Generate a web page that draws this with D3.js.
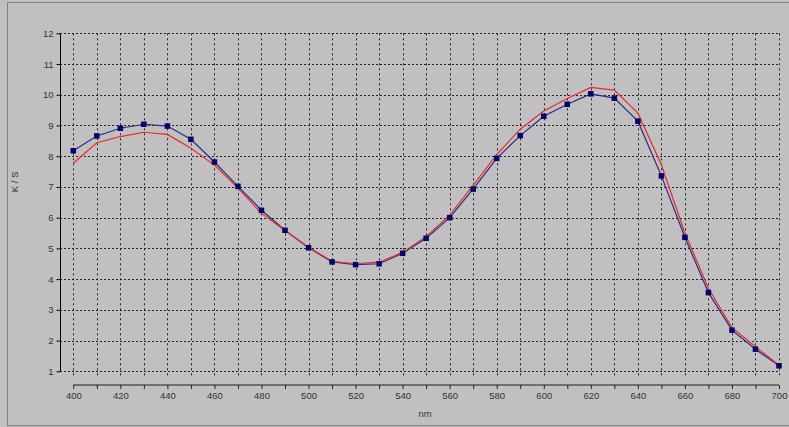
<!DOCTYPE html>
<html>
<head>
<meta charset="utf-8">
<script src="https://cdn.jsdelivr.net/npm/d3@7"></script>
<style>
  html, body { margin: 0; padding: 0; background: #c0c0c0; }
  svg { display: block; }
  text { font-family: "Liberation Sans", Arial, sans-serif; font-size: 9.5px; fill: #333; }
</style>
</head>
<body>
<div id="chart"></div>
<script>
// wavelengths (nm)
const wavelengths = [400, 410, 420, 430, 440, 450, 460, 470, 480, 490, 500, 510, 520, 530, 540, 550,
                     560, 570, 580, 590, 600, 610, 620, 630, 640, 650, 660, 670, 680, 690, 700];
// blue series (with markers)
const blueKS = [8.18, 8.66, 8.91, 9.04, 8.98, 8.55, 7.81, 7.02, 6.24, 5.59, 5.02, 4.56, 4.47, 4.50, 4.84, 5.33,
                6.00, 6.93, 7.93, 8.67, 9.30, 9.69, 10.03, 9.89, 9.14, 7.36, 5.36, 3.56, 2.34, 1.72, 1.18];
// red series (line only)
const redKS = [7.77, 8.44, 8.64, 8.78, 8.71, 8.26, 7.71, 6.96, 6.14, 5.58, 5.04, 4.58, 4.50, 4.55, 4.87, 5.38,
               6.08, 7.05, 8.05, 8.88, 9.47, 9.88, 10.24, 10.15, 9.40, 7.72, 5.50, 3.70, 2.42, 1.80, 1.20];
const yTicks = [1, 2, 3, 4, 5, 6, 7, 8, 9, 10, 11, 12];
const xTicks = [400, 420, 440, 460, 480, 500, 520, 540, 560, 580, 600, 620, 640, 660, 680, 700];

const W = 789, H = 427;
const svg = d3.select("#chart").append("svg")
    .attr("width", W)
    .attr("height", H);

// outer frame
svg.append("rect")
    .attr("x", 7.5).attr("y", 2.5)
    .attr("width", W).attr("height", 423)
    .attr("fill", "#c0c0c0")
    .attr("stroke", "#808080")
    .attr("stroke-width", 1);

const x = d3.scaleLinear().domain([400, 700]).range([73.3, 779]);
const y = d3.scaleLinear().domain([1, 12]).range([371.3, 33.3]);

// grid
const grid = svg.append("g");
grid.selectAll(".hg")
    .data(yTicks)
    .join("line")
    .attr("x1", 60).attr("x2", 779)
    .attr("y1", d => Math.round(y(d)) + 0.5).attr("y2", d => Math.round(y(d)) + 0.5)
    .attr("stroke", "#222")
    .attr("stroke-dasharray", "2,2");
grid.selectAll(".vg")
    .data(wavelengths)
    .join("line")
    .attr("x1", d => Math.round(x(d)) + 0.5).attr("x2", d => Math.round(x(d)) + 0.5)
    .attr("y1", y(12)).attr("y2", 377)
    .attr("stroke", "#222")
    .attr("stroke-dasharray", "2,3");

// y axis
const yAxis = svg.append("g")
    .attr("transform", "translate(60.5,0)")
    .call(d3.axisLeft(y).tickValues(yTicks).tickSize(4).tickPadding(3).tickFormat(d3.format("d")));
yAxis.select(".domain").attr("stroke", "#000").attr("d", "M0," + y(12) + "V" + y(1));
yAxis.selectAll(".tick line").attr("stroke", "#000");
yAxis.selectAll("text").style("font-family", "Liberation Sans, Arial, sans-serif").style("font-size", "9.5px").attr("fill", "#333");

// x axis
const xAxis = svg.append("g")
    .attr("transform", "translate(0,385)")
    .call(d3.axisBottom(x).tickValues(wavelengths).tickSize(4).tickPadding(3)
        .tickFormat(d => xTicks.includes(d) ? d : ""));
xAxis.select(".domain").attr("stroke", "#555").attr("stroke-width", 1.5).attr("d", "M" + x(400) + ",0H" + x(700));
xAxis.selectAll(".tick line").attr("stroke", "#222");
xAxis.selectAll("text").style("font-family", "Liberation Sans, Arial, sans-serif").style("font-size", "9.5px").attr("fill", "#333");

// axis titles
svg.append("text")
    .attr("transform", "translate(15,182) rotate(-90)")
    .attr("text-anchor", "middle")
    .attr("dominant-baseline", "middle")
    .text("K / S");
svg.append("text")
    .attr("x", 425).attr("y", 414)
    .attr("text-anchor", "middle")
    .attr("dominant-baseline", "middle")
    .text("nm");

// series
const line = d3.line()
    .x(d => x(d[0]))
    .y(d => y(d[1]));

const blueData = wavelengths.map((w, i) => [w, blueKS[i]]);
const redData = wavelengths.map((w, i) => [w, redKS[i]]);

svg.append("path")
    .datum(blueData)
    .attr("d", line)
    .attr("fill", "none")
    .attr("stroke", "#2a2a8a")
    .attr("stroke-width", 1.2);

svg.append("path")
    .datum(redData)
    .attr("d", line)
    .attr("fill", "none")
    .attr("stroke", "#f02828")
    .attr("stroke-width", 1.2);

svg.selectAll(".mk")
    .data(blueData)
    .join("rect")
    .attr("x", d => x(d[0]) - 2.75)
    .attr("y", d => y(d[1]) - 2.75)
    .attr("width", 5.5).attr("height", 5.5)
    .attr("fill", "#000070");
</script>
</body>
</html>
